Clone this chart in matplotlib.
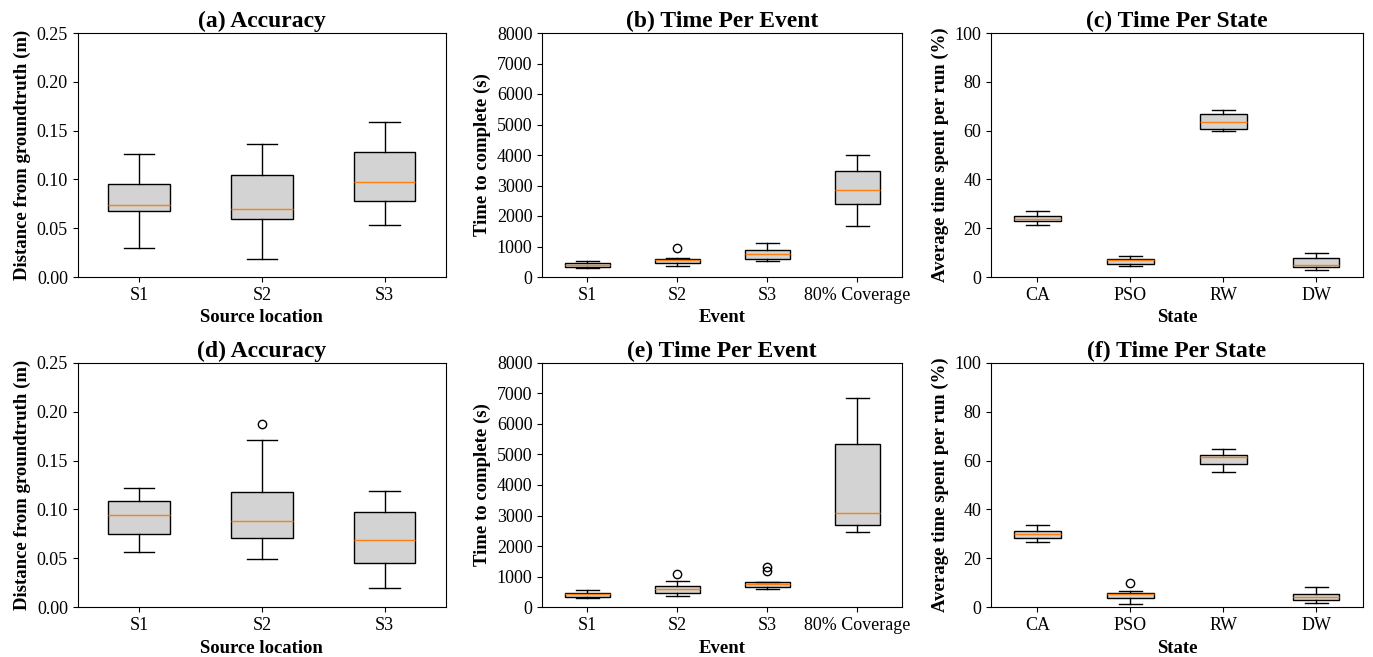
import matplotlib
matplotlib.use('Agg')
import matplotlib.pyplot as plt

plt.rcParams['font.family'] = ['Liberation Serif', 'DejaVu Serif']
plt.rcParams['font.size'] = 13

# --- box statistics: [whislo, q1, med, q3, whishi] ---
src_labels = ['S1', 'S2', 'S3']
event_labels = ['S1', 'S2', 'S3', '80% Coverage']
state_labels = ['CA', 'PSO', 'RW', 'DW']

acc_top = [[0.0293, 0.0681, 0.0736, 0.0957, 0.126],
           [0.0184, 0.0596, 0.0698, 0.1046, 0.1366],
           [0.0535, 0.0783, 0.0974, 0.1284, 0.1584]]
acc_top_fliers = [[], [], []]

evt_top = [[283, 338, 403, 458, 534],
           [371, 458, 545, 589, 632],
           [523, 589, 752, 883, 1101],
           [1678, 2398, 2856, 3477, 4011]]
evt_top_fliers = [[], [948], [], []]

st_top = [[21.4, 22.9, 23.7, 24.8, 27.0],
          [4.4, 5.3, 7.1, 7.4, 8.6],
          [59.8, 60.6, 63.4, 66.8, 68.3],
          [2.7, 4.0, 4.9, 7.6, 9.7]]
st_top_fliers = [[], [], [], []]

acc_bot = [[0.0565, 0.0753, 0.094, 0.1087, 0.1219],
           [0.0497, 0.0712, 0.0886, 0.1175, 0.1713],
           [0.0198, 0.0453, 0.0688, 0.0978, 0.1189]]
acc_bot_fliers = [[], [0.1877], []]

evt_bot = [[316, 349, 425, 480, 556],
           [360, 458, 599, 698, 872],
           [599, 665, 774, 828, 839],
           [2474, 2703, 3074, 5330, 6845]]
evt_bot_fliers = [[], [1101], [1199, 1308], []]

st_bot = [[26.6, 28.3, 29.8, 31.2, 33.8],
          [1.4, 3.7, 5.3, 5.9, 6.5],
          [55.3, 58.6, 61.3, 62.3, 64.6],
          [1.9, 3.0, 4.1, 5.3, 8.4]]
st_bot_fliers = [[], [9.8], [], []]


def make_stats(rows, fliers, labels):
    out = []
    for r, f, lab in zip(rows, fliers, labels):
        out.append(dict(whislo=r[0], q1=r[1], med=r[2], q3=r[3], whishi=r[4],
                        fliers=f, label=lab))
    return out


fig = plt.figure(figsize=(13.73, 6.57), dpi=100)
W, H = 1373, 657
lefts = [77.7, 542.3, 991]
rights = [446, 902.3, 1362.7]
tops = [33, 362.7]
bottoms = [277, 607.3]

panels = [
    ('(a) Accuracy', acc_top, acc_top_fliers, src_labels, 'Source location',
     'Distance from groundtruth (m)', (0, 0.25), [0, 0.05, 0.10, 0.15, 0.20, 0.25], '%.2f'),
    ('(b) Time Per Event', evt_top, evt_top_fliers, event_labels, 'Event',
     'Time to complete (s)', (0, 8000), list(range(0, 8001, 1000)), '%d'),
    ('(c) Time Per State', st_top, st_top_fliers, state_labels, 'State',
     'Average time spent per run (%)', (0, 100), [0, 20, 40, 60, 80, 100], '%d'),
    ('(d) Accuracy', acc_bot, acc_bot_fliers, src_labels, 'Source location',
     'Distance from groundtruth (m)', (0, 0.25), [0, 0.05, 0.10, 0.15, 0.20, 0.25], '%.2f'),
    ('(e) Time Per Event', evt_bot, evt_bot_fliers, event_labels, 'Event',
     'Time to complete (s)', (0, 8000), list(range(0, 8001, 1000)), '%d'),
    ('(f) Time Per State', st_bot, st_bot_fliers, state_labels, 'State',
     'Average time spent per run (%)', (0, 100), [0, 20, 40, 60, 80, 100], '%d'),
]

for i, (title, rows, fl, labels, xl, yl, ylim, yt, fmt) in enumerate(panels):
    r, c = divmod(i, 3)
    ax = fig.add_axes([lefts[c] / W, 1 - bottoms[r] / H,
                       (rights[c] - lefts[c]) / W, (bottoms[r] - tops[r]) / H])
    ax.bxp(make_stats(rows, fl, labels), widths=0.5, patch_artist=True, showfliers=True,
           boxprops=dict(facecolor='lightgray', edgecolor='black'),
           medianprops=dict(color='#ff7f0e'))
    ax.set_xlim(0.5, len(rows) + 0.5)
    ax.set_ylim(*ylim)
    ax.set_yticks(yt)
    ax.set_yticklabels([fmt % v for v in yt])
    ax.set_title(title, fontsize=17, fontweight='bold', pad=4)
    ax.set_xlabel(xl, fontsize=13.5, fontweight='bold')
    ax.set_ylabel(yl, fontsize=13.5, fontweight='bold')

plt.savefig('out.png', dpi=100)
